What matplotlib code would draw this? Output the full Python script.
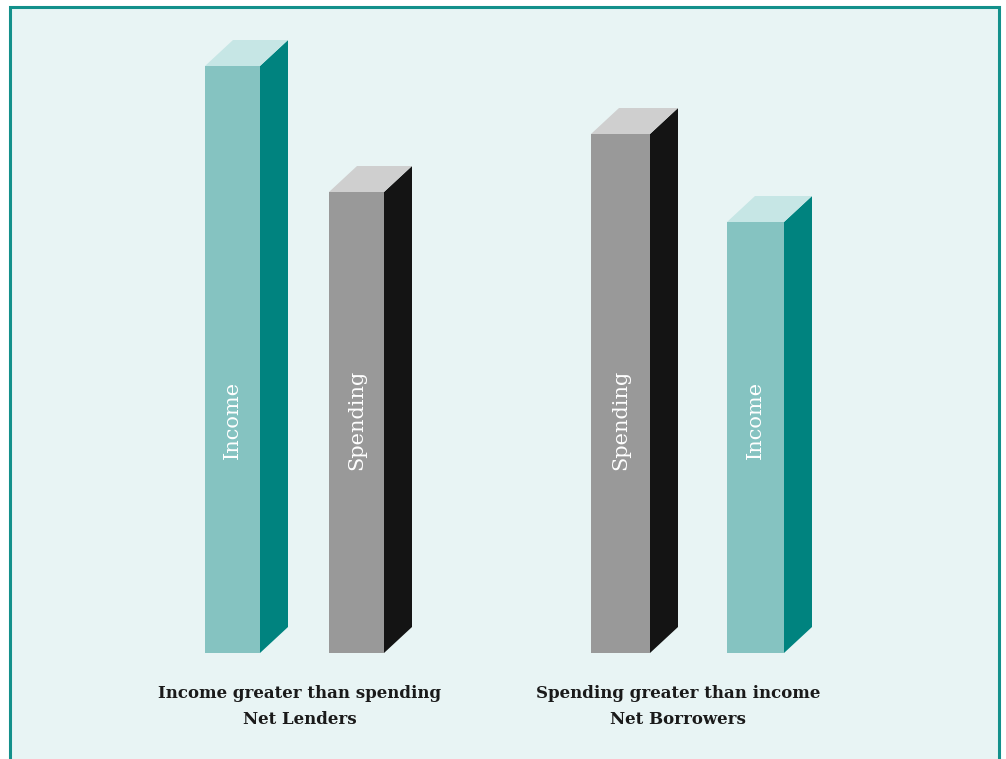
import matplotlib.pyplot as plt
from matplotlib.patches import Polygon, Rectangle

# bar data (heights in chart units, baseline = 0)
labels = ['Income', 'Spending', 'Spending', 'Income']
values = [587, 461, 519, 431]
kinds = ['income', 'spending', 'spending', 'income']
group_titles = ['Income greater than spending', 'Spending greater than income']
group_subtitles = ['Net Lenders', 'Net Borrowers']

# layout
lefts = [205, 329, 591, 727]
widths = [55, 55, 59, 57]
dx, dy = 28, 26
colors = {
    'income': ('#85c3c1', '#00837f', '#c6e6e5'),
    'spending': ('#999999', '#141414', '#cfcfcf'),
}

fig = plt.figure(figsize=(10.06, 7.59), dpi=100)
fig.patch.set_facecolor('white')
ax = fig.add_axes([0, 0, 1, 1])
ax.set_xlim(0, 1006)
ax.set_ylim(-106, 653)
ax.axis('off')

# panel background and border
ax.add_patch(Rectangle((10.5, -120), 989, 766.5, facecolor='#e8f4f4',
                       edgecolor='#13908b', linewidth=2.2, zorder=0))

for x0, w, h, k, lab in zip(lefts, widths, values, kinds, labels):
    front, side, top = colors[k]
    ax.bar(x0, h, width=w, align='edge', color=front, zorder=2)
    ax.add_patch(Polygon([(x0 + w, 0), (x0 + w + dx, dy), (x0 + w + dx, h + dy), (x0 + w, h)],
                         closed=True, facecolor=side, edgecolor='none', zorder=2))
    ax.add_patch(Polygon([(x0, h), (x0 + w, h), (x0 + w + dx, h + dy), (x0 + dx, h + dy)],
                         closed=True, facecolor=top, edgecolor='none', zorder=2))
    ax.text(x0 + w / 2, 233, lab, rotation=90, ha='center', va='center',
            color='white', fontsize=15, family='DejaVu Serif', zorder=3)

for cx, t, s in zip([300, 678], group_titles, group_subtitles):
    ax.text(cx, 653 - 693, t, ha='center', va='center', fontsize=12,
            fontweight='bold', family='DejaVu Serif', color='#1a1a1a')
    ax.text(cx, 653 - 720, s, ha='center', va='center', fontsize=12,
            fontweight='bold', family='DejaVu Serif', color='#1a1a1a')

plt.savefig('out.png', dpi=100)
plt.close()
